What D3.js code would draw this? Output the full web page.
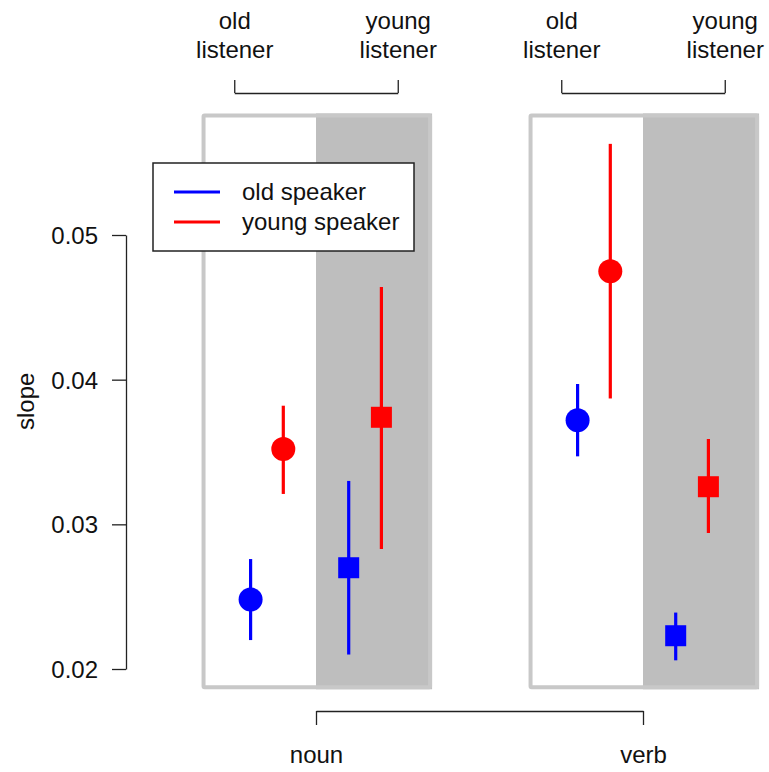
<!DOCTYPE html>
<html>
<head>
<meta charset="utf-8">
<script src="https://cdn.jsdelivr.net/npm/d3@7"></script>
<style>
  body { margin: 0; background: #fff; }
  text { font-family: "Liberation Sans", Arial, sans-serif; font-size: 24px; fill: #111; }
</style>
</head>
<body>
<script>
// slope estimates by word class, listener age and speaker age

var categories = ["noun", "verb"],
	listeners = ["old listener", "young listener"],
	speakers = ["old speaker", "young speaker"],
	colors = ["#0000ff", "#ff0000"],
	yTicks = [0.02, 0.03, 0.04, 0.05];

// values in order: noun/old, noun/young, verb/old, verb/young listener
var oldSpeakerMean = [0.0248, 0.0270, 0.0372, 0.0223],
	oldSpeakerLow = [0.0220, 0.0210, 0.0347, 0.0206],
	oldSpeakerHigh = [0.0276, 0.0330, 0.0397, 0.0239];

var youngSpeakerMean = [0.0352, 0.0374, 0.0475, 0.0326],
	youngSpeakerLow = [0.0321, 0.0283, 0.0387, 0.0294],
	youngSpeakerHigh = [0.0382, 0.0464, 0.0563, 0.0359];

var w = 769,
	h = 772;

var svg = d3.select("body")
	.append("svg")
	.attr("width", w)
	.attr("height", h);

// category position 1 = noun, 2 = verb
var x = d3.scaleLinear().domain([1, 2]).range([316, 643]);
var y = d3.scaleLinear().domain([0.02, 0.05]).range([669, 235]);

var panelTop = 0.0584, panelBottom = 0.0186;
var listenerOffset = [-0.25, 0.25];
var pointOffset = [[-0.2, -0.1], [0.1, 0.2]]; // [listener][speaker]

// build rows from the arrays
var rows = [];
categories.forEach(function(c, ci){
	listeners.forEach(function(l, li){
		var k = ci * 2 + li;
		rows.push({cat: ci + 1, listener: li, speaker: 0,
			mean: oldSpeakerMean[k], lo: oldSpeakerLow[k], hi: oldSpeakerHigh[k]});
		rows.push({cat: ci + 1, listener: li, speaker: 1,
			mean: youngSpeakerMean[k], lo: youngSpeakerLow[k], hi: youngSpeakerHigh[k]});
	});
});

// panels
categories.forEach(function(c, ci){
	var cx = ci + 1;
	var g = svg.append("g");
	g.append("rect")
		.attr("x", x(cx - 0.35))
		.attr("y", y(panelTop))
		.attr("width", x(cx) - x(cx - 0.35))
		.attr("height", y(panelBottom) - y(panelTop))
		.attr("fill", "#ffffff");
	g.append("rect")
		.attr("x", x(cx))
		.attr("y", y(panelTop))
		.attr("width", x(cx + 0.355) - x(cx))
		.attr("height", y(panelBottom) - y(panelTop))
		.attr("fill", "#bebebe");
	g.append("rect")
		.attr("x", x(cx - 0.35) + 2)
		.attr("y", y(panelTop) + 2)
		.attr("width", x(cx + 0.355) - x(cx - 0.35) - 4)
		.attr("height", y(panelBottom) - y(panelTop) - 4)
		.attr("rx", 1)
		.attr("fill", "none")
		.attr("stroke", "#c8c8c8")
		.attr("stroke-width", 4);
});

// y axis
var yAxis = svg.append("g")
	.attr("transform", "translate(126,0)")
	.call(d3.axisLeft(y).tickValues(yTicks).tickSize(14).tickSizeOuter(0).tickPadding(14)
		.tickFormat(d3.format(".2f")));

// bottom axis
var xAxis = svg.append("g")
	.attr("transform", "translate(0,711)")
	.call(d3.axisBottom(x).tickValues([1, 2]).tickSize(14).tickSizeOuter(0).tickPadding(21)
		.tickFormat(function(d){ return categories[d - 1]; }));

// top axes, one per category
categories.forEach(function(c, ci){
	var cx = ci + 1;
	var sub = d3.scaleLinear()
		.domain([cx + listenerOffset[0], cx + listenerOffset[1]])
		.range([x(cx + listenerOffset[0]), x(cx + listenerOffset[1])]);
	var ax = svg.append("g")
		.attr("transform", "translate(0,93)")
		.call(d3.axisTop(sub).tickValues(sub.domain()).tickSize(13).tickSizeOuter(0)
			.tickFormat(""));
	ax.selectAll(".tick").each(function(d, i){
		var t = d3.select(this).append("text")
			.attr("text-anchor", "middle")
			.attr("y", -64)
			.attr("fill", "#111");
		var parts = listeners[i].split(" ");
		t.append("tspan").attr("x", 0).text(parts[0]);
		t.append("tspan").attr("x", 0).attr("dy", 29).text(parts[1]);
	});
});

svg.selectAll(".domain, .tick line")
	.attr("stroke", "#222")
	.attr("stroke-width", 1.3);
svg.selectAll(".tick text")
	.style("font-size", "24px")
	.attr("fill", "#111");
yAxis.selectAll(".tick text").attr("dy", "0.36em");

// y label
svg.append("text")
	.attr("transform", "translate(34," + y(0.0385) + ") rotate(-90)")
	.attr("text-anchor", "middle")
	.text("slope");

// error bars and points
var px = function(d){ return x(d.cat + pointOffset[d.listener][d.speaker]); };

svg.selectAll("line.ci")
	.data(rows)
	.enter()
	.append("line")
	.attr("class", "ci")
	.attr("x1", px)
	.attr("x2", px)
	.attr("y1", function(d){ return y(d.lo); })
	.attr("y2", function(d){ return y(d.hi); })
	.attr("stroke", function(d){ return colors[d.speaker]; })
	.attr("stroke-width", 3.2);

svg.selectAll("circle.pt")
	.data(rows.filter(function(d){ return d.listener === 0; }))
	.enter()
	.append("circle")
	.attr("class", "pt")
	.attr("cx", px)
	.attr("cy", function(d){ return y(d.mean); })
	.attr("r", 12)
	.attr("fill", function(d){ return colors[d.speaker]; });

svg.selectAll("rect.pt")
	.data(rows.filter(function(d){ return d.listener === 1; }))
	.enter()
	.append("rect")
	.attr("class", "pt")
	.attr("x", function(d){ return px(d) - 10.5; })
	.attr("y", function(d){ return y(d.mean) - 10.5; })
	.attr("width", 21)
	.attr("height", 21)
	.attr("fill", function(d){ return colors[d.speaker]; });

// legend
var legend = svg.append("g").attr("transform", "translate(153,163)");
legend.append("rect")
	.attr("width", 261)
	.attr("height", 88)
	.attr("fill", "#fff")
	.attr("stroke", "#222")
	.attr("stroke-width", 1.5);
var item = legend.selectAll("g.item")
	.data(speakers)
	.enter()
	.append("g")
	.attr("class", "item")
	.attr("transform", function(d, i){ return "translate(0," + (29 + i * 30) + ")"; });
item.append("line")
	.attr("x1", 21).attr("x2", 67)
	.attr("stroke", function(d, i){ return colors[i]; })
	.attr("stroke-width", 3);
item.append("text")
	.attr("x", 89)
	.attr("dy", "0.35em")
	.text(function(d){ return d; });
</script>
</body>
</html>
